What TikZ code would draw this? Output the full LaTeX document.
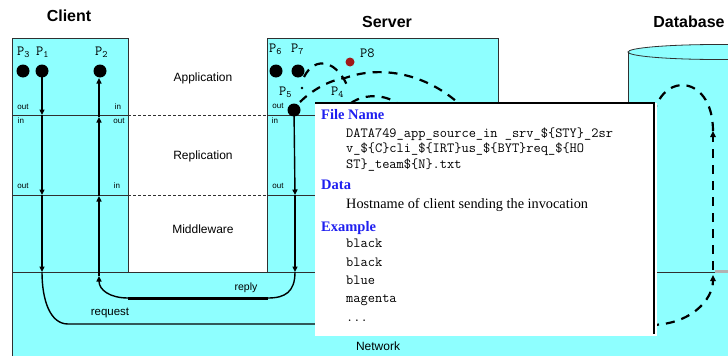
\documentclass[tikz,border=0pt]{standalone}
\usepackage{fontspec}
\setmainfont{Liberation Serif}
\setsansfont{Liberation Sans}
\usetikzlibrary{arrows.meta}
\definecolor{netcyan}{HTML}{8EFFFF}
\definecolor{headblue}{HTML}{1F1FF0}
\definecolor{pred}{HTML}{A01818}
\definecolor{edge}{HTML}{303030}
\begin{document}
\begin{tikzpicture}[x=1pt,y=-1pt,
  boxline/.style={draw=edge,line width=0.8pt},
  flow/.style={line width=1.4pt,-{Triangle[length=5.5pt,width=5pt]}},
  flowplain/.style={line width=1.4pt},
  dashflow/.style={line width=2.2pt,dash pattern=on 9pt off 7pt},
  dashtip/.style={dashflow,-{Triangle[length=6pt,width=5.5pt]}},
  divider/.style={draw=edge,line width=0.8pt,dash pattern=on 3pt off 2pt},
  dot/.style={circle,fill=black,inner sep=0pt,minimum size=13pt},
  title/.style={font=\sffamily\bfseries\fontsize{16}{18}\selectfont},
  layer/.style={font=\sffamily\fontsize{12}{14}\selectfont},
  io/.style={font=\sffamily\fontsize{8}{9}\selectfont,inner sep=0pt},
  plabel/.style={font=\ttfamily\fontsize{14}{15}\selectfont,inner sep=0pt,anchor=base west},
  head/.style={font=\bfseries\fontsize{14.5}{16}\selectfont,text=headblue,inner sep=0pt,anchor=base west},
  code/.style={font=\ttfamily\fontsize{14}{15}\selectfont,inner sep=0pt,anchor=base west},
  body/.style={font=\fontsize{14.3}{16}\selectfont,inner sep=0pt,anchor=base west}]
\useasboundingbox (0,0) rectangle (728,356);

% cyan areas: client column, server column, network band, database
\fill[netcyan] (12,38) rectangle (128,272);
\fill[netcyan] (267,38) rectangle (498,272);
\fill[netcyan] (12,272) rectangle (728,356);
\fill[netcyan] (628,52) rectangle (728,272);
\fill[netcyan] (718,52) ellipse [x radius=90, y radius=7.5];

% outlines
\draw[boxline] (12,356) -- (12,38) -- (128,38) -- (128,272);
\draw[boxline] (267,272) -- (267,38) -- (498,38) -- (498,103);
\draw[boxline] (12,272) -- (728,272);
\draw[boxline] (12,115) -- (128,115);
\draw[boxline] (267,115) -- (320,115);
\draw[boxline] (12,195) -- (128,195);
\draw[boxline] (267,195) -- (320,195);
\draw[divider] (128,115) -- (267,115);
\draw[divider] (128,195) -- (267,195);
\draw[boxline] (628,272) -- (628,52);
\draw[boxline] (718,52) ellipse [x radius=90, y radius=7.5];
\fill[gray!60] (715,270) rectangle (728,273);

% titles and layer names
\node[title] (tclient) at (69,16) {Client};
\node[title] (tserver) at (387,22) {Server};
\node[title] (tdb) at (689,22) {Database};
\node[layer] (lapp) at (203,78) {Application};
\node[layer] (lrep) at (203,156) {Replication};
\node[layer] (lmid) at (203,229) {Middleware};
\node[layer] (lnet) at (378,346) {Network};
\node[font=\sffamily\fontsize{10.5}{12}\selectfont] (lreply) at (246,288) {reply};
\node[font=\sffamily\fontsize{11.5}{13}\selectfont] (lreq) at (110,313) {request};

% in/out port labels
\node[io] (o1) at (23,107) {out};
\node[io] (i1) at (118,107) {in};
\node[io] (i2) at (21,121) {in};
\node[io] (o2) at (119,121) {out};
\node[io] (o3) at (23,186) {out};
\node[io] (i3) at (117,186) {in};
\node[io] (o4) at (278,106) {out};
\node[io] (i4) at (275,121) {in};
\node[io] (o5) at (278,186) {out};

% processes
\node[plabel] (lp3) at (17,55) {P\textsubscript{3}};
\node[plabel] (lp1) at (36,55) {P\textsubscript{1}};
\node[plabel] (lp2) at (95,55) {P\textsubscript{2}};
\node[plabel] (lp6) at (269,52) {P\textsubscript{6}};
\node[plabel] (lp7) at (291,52) {P\textsubscript{7}};
\node[plabel] (lp5) at (279,95) {P\textsubscript{5}};
\node[plabel] (lp4) at (331,95) {P\textsubscript{4}};
\node[plabel] (lp8) at (360,57) {P8};

\node[dot] (p3) at (23,71) {};
\node[dot] (p1) at (42,71) {};
\node[dot] (p2) at (100,71) {};
\node[dot] (p6) at (276,71) {};
\node[dot] (p7) at (298,71) {};
\node[dot] (p5) at (294,110) {};
\node[circle,fill=pred,inner sep=0pt,minimum size=9pt] (p8) at (350,62) {};

% client request path
\coordinate (a1) at (42,115);
\coordinate (a2) at (42,195);
\coordinate (a3) at (42,272);
\coordinate (rq) at (68,324);
\coordinate (rqend) at (320,324);
\draw[flow] (p1.center) -- (a1);
\draw[flow] (a1) -- (a2);
\draw[flow] (a2) -- (a3);
\draw[flowplain] (a3) .. controls (42,300) and (50,324) .. (rq) -- (rqend);

% server reply path
\coordinate (s1) at (295,195);
\coordinate (s2) at (295,272);
\coordinate (r1) at (268,298);
\coordinate (r2) at (128,298);
\coordinate (b0) at (99,276);
\coordinate (b1) at (99,196);
\coordinate (b2) at (99,117);
\coordinate (b3) at (99,78);
\draw[flow] (p5.center) -- (s1);
\draw[flow] (s1) -- (s2);
\draw[flowplain] (s2) .. controls (295,292) and (285,298) .. (r1);
\draw[line width=3pt] (r1) -- (r2);
\draw[flow] (r2) .. controls (110,298) and (99,290) .. (b0);
\draw[flow] (b0) -- (b1);
\draw[flow] (b1) -- (b2);
\draw[flow] (b2) -- (b3);

% invocations spreading from the server processes
\coordinate (d7) at (304,77);
\coordinate (d4) at (349,90);
\coordinate (d5) at (300,102);
\coordinate (d5b) at (345,78);
\coordinate (dfar) at (470,115);
\coordinate (d4b) at (351,103);
\coordinate (d4c) at (405,110);
\draw[dashflow] (d7) .. controls (315,55) and (338,60) .. (d4);
\draw[dashflow] (d5) .. controls (312,90) and (330,80) .. (d5b)
  .. controls (390,62) and (440,80) .. (dfar);
\draw[dashflow] (d4b) .. controls (365,93) and (390,93) .. (d4c);
\fill (302,88) circle [radius=1.3pt];

% loop through the database
\coordinate (q0) at (650,325);
\coordinate (q1) at (713,275);
\coordinate (q2) at (713,270);
\coordinate (q3) at (713,131);
\coordinate (q4) at (652,130);
\draw[dashtip] (q0) .. controls (690,325) and (713,300) .. (q1);
\draw[dashtip] (q2) -- (q3);
\draw[dashflow] (q3) .. controls (713,70) and (652,70) .. (q4);

% description panel
\fill[white] (315,103) rectangle (657,336);
\draw[line width=1.2pt] (315,103) -- (654,103) -- (654,334);
\node[head] (hfile) at (321,119) {File Name};
\node[code] (c1) at (346,137) {DATA749\_app\_source\_in \_srv\_\$\{STY\}\_2sr};
\node[code] (c2) at (346,152) {v\_\$\{C\}cli\_\$\{IRT\}us\_\$\{BYT\}req\_\$\{HO};
\node[code] (c3) at (346,168) {ST\}\_team\$\{N\}.txt};
\node[head] (hdata) at (321,189) {Data};
\node[body] (t1) at (346,208) {Hostname of client sending the invocation};
\node[head] (hex) at (321,231) {Example};
\node[code] (e1) at (346,247) {black};
\node[code] (e2) at (346,266) {black};
\node[code] (e3) at (346,284) {blue};
\node[code] (e4) at (346,302) {magenta};
\node[code] (e5) at (346,321) {...};
\end{tikzpicture}
\end{document}
